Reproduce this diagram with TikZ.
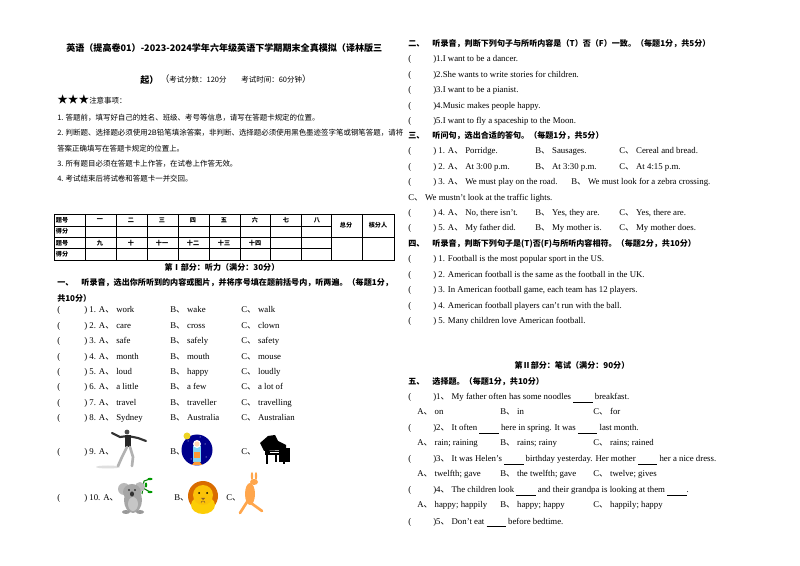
\documentclass[tikz,border=0pt]{standalone}
\usepackage{fontspec}
\setmainfont{Liberation Serif}
\newfontfamily\cjk{Noto Sans CJK SC}
\newcommand{\dn}{{\cjk 、}}
\tikzset{
  txt/.style={anchor=base west, inner sep=0pt, font=\fontsize{6.6}{8}\selectfont},
  zh/.style={anchor=base west, inner sep=0pt, font=\cjk\fontsize{6}{8}\selectfont},
  hd/.style={anchor=base west, inner sep=0pt, font=\cjk\bfseries\fontsize{6.05}{8}\selectfont},
  cell/.style={inner sep=0pt, font=\cjk\bfseries\fontsize{4.6}{5}\selectfont},
}
\begin{document}
\begin{tikzpicture}[x=0.75pt, y=-0.75pt]
  \useasboundingbox[fill=white] (0,0) rectangle (800,566);

  % Title
  \node[hd, font=\cjk\bfseries\fontsize{6.8}{9}\selectfont] (title) at (66,52) {英语（提高卷01）-2023-2024学年六年级英语下学期期末全真模拟（译林版三};
  \node[hd, font=\cjk\bfseries\fontsize{6.8}{9}\selectfont] (title2) at (140,84) {起）};
  \node[zh, font=\cjk\fontsize{5.6}{7}\selectfont] (score) at (160,83) {\fontsize{6.8}{9}\selectfont（\fontsize{5.6}{7}\selectfont 考试分数：120分\quad\quad 考试时间：60分钟\fontsize{6.8}{9}\selectfont）};

  % Notes
  \node[zh] (notes) at (57,104) {\fontsize{8}{9}\selectfont★★★\fontsize{5.6}{7}\selectfont 注意事项：};
  \node[zh, font=\cjk\fontsize{5.6}{7}\selectfont] (n1) at (57,121) {1. 答题前，填写好自己的姓名、班级、考号等信息，请写在答题卡规定的位置。};
  \node[zh, font=\cjk\fontsize{5.6}{7}\selectfont] (n2) at (57,136) {2. 判断题、选择题必须使用2B铅笔填涂答案，非判断、选择题必须使用黑色墨迹签字笔或钢笔答题，请将};
  \node[zh, font=\cjk\fontsize{5.6}{7}\selectfont] (n2b) at (57,152) {答案正确填写在答题卡规定的位置上。};
  \node[zh, font=\cjk\fontsize{5.6}{7}\selectfont] (n3) at (57,167) {3. 所有题目必须在答题卡上作答，在试卷上作答无效。};
  \node[zh, font=\cjk\fontsize{5.6}{7}\selectfont] (n4) at (57,182) {4. 考试结束后将试卷和答题卡一并交回。};

  % Score table
  \draw[line width=0.6pt] (54,214) rectangle (394,260);
  \foreach \y in {226,237,248} \draw[line width=0.4pt] (54,\y) -- (331,\y);
  \draw[line width=0.4pt] (331,237) -- (394,237);
  \foreach \x in {85,116,147,178,209,240,270,301,331,362} \draw[line width=0.4pt] (\x,214) -- (\x,260);
  \foreach \t [count=\i] in {一,二,三,四,五,六,七,八}
    \node[cell] (top\i) at ({85+31*(\i-1)+15},220) {\t};
  \foreach \t [count=\i] in {九,十,十一,十二,十三,十四}
    \node[cell] (bot\i) at ({85+31*(\i-1)+15},243) {\t};
  \foreach \y/\t in {220/题号,231/得分,243/题号,254/得分}
    \node[cell] at (62,\y) {\t};
  \node[cell] (total) at (346,225) {总分};
  \node[cell] (checker) at (378,225) {核分人};

  % Part I
  \node[hd, anchor=base] (part1) at (222,271) {第Ⅰ部分：听力（满分：30分）};
  \node[hd] (q1) at (57,286) {一、\quad 听录音，选出你所听到的内容或图片，并将序号填在题前括号内，听两遍。（每题1分，};
  \node[hd] (q1b) at (57,302) {共10分）};
  \foreach \n/\a/\b/\c [count=\i] in {1/work/wake/walk, 2/care/cross/clown, 3/safe/safely/safety, 4/month/mouth/mouse, 5/loud/happy/loudly, 6/a little/a few/a lot of, 7/travel/traveller/travelling, 8/Sydney/Australia/Australian}
  {
    \node[txt] (l\i) at (57,{313+15.4*(\i-1)}) {(};
    \node[txt] (la\i) at (84,{313+15.4*(\i-1)}) {) \n. A\dn\ \a};
    \node[txt] (lb\i) at (170,{313+15.4*(\i-1)}) {B\dn\ \b};
    \node[txt] (lc\i) at (241,{313+15.4*(\i-1)}) {C\dn\ \c};
  }
  \node[txt] (l9) at (57,455) {(};
  \node[txt] (la9) at (84,455) {) 9. A\dn};
  \node[txt] (lb9) at (170,455) {B\dn};
  \node[txt] (lc9) at (241,455) {C\dn};
  \node[txt] (l10) at (57,501) {(};
  \node[txt] (la10) at (84,501) {) 10. A\dn};
  \node[txt] (lb10) at (174,501) {B\dn};
  \node[txt] (lc10) at (226,501) {C\dn};

  % Pictures: dancer, astronaut, piano
  \fill[gray!25] (108,467) ellipse (12 and 1.5);
  \draw[black!80, line width=1.6pt, line cap=round] (128,436) -- (120,437) -- (112,433);
  \draw[black!80, line width=1.6pt, line cap=round] (128,436) -- (138,438) -- (146,441);
  \fill[black!85] (125,435) rectangle (131,447);
  \fill[black!70] (127,432) circle (2.4);
  \draw[gray!60, line width=2pt, line cap=round] (127,447) -- (122,457) -- (118,466);
  \draw[gray!60, line width=2pt, line cap=round] (130,447) -- (133,457) -- (132,466);
  \fill[blue!55!black] (197,450) circle (15.5);
  \foreach \sx/\sy in {188/441,205/444,191/459,206/457,200/437} \fill[white] (\sx,\sy) circle (0.5);
  \fill[yellow!70!brown] (187,436) circle (3.5);
  \fill[cyan!50] (193,446) rectangle (201,462);
  \fill[orange!80] (194,452) rectangle (200,458);
  \fill[white] (197,444) circle (4);
  \fill[orange!30] (197,444) circle (2.6);
  \fill[orange!80] (192,465) -- (202,465) -- (200,462) -- (194,462) -- cycle;
  \fill[black] (260,443) -- (268,436) -- (275,435) -- (278,441) -- (286,445) -- (286,450) -- (264,451) -- cycle;
  \fill[black] (265,451) rectangle (287,455);
  \draw[white, line width=0.3pt] (270,452) -- (285,452);
  \draw[black, line width=1.2pt] (267,455) -- (267,464) (284,455) -- (284,464) (276,455) -- (276,462);
  \fill[black] (279,448) rectangle (290,462);

  % Pictures: koala, lion, kangaroo
  \draw[green!50!black, line width=0.8pt] (142,494) -- (144,481) (144,481) -- (150,479) (143,488) -- (150,492);
  \fill[green!60!black] (150,479) ellipse (2.5 and 1.2) (150,492) ellipse (2.5 and 1.2) (146,485) ellipse (1.2 and 2.5);
  \fill[gray!70] (133,500) ellipse (9 and 13);
  \fill[gray!55] (124,489) circle (6);
  \fill[gray!55] (140,487) circle (5);
  \fill[gray!70] (132,492) ellipse (9 and 8);
  \fill[black!80] (132,494) ellipse (2 and 2.6);
  \fill[black] (129,490) circle (0.8) (135,490) circle (0.8);
  \fill[gray!45] (133,504) ellipse (5 and 7);
  \fill[gray!80] (126,512) ellipse (4 and 2) (140,512) ellipse (4 and 2);
  \fill[orange!85!black] (203,496) circle (15);
  \fill[yellow!65!orange] (203,505) ellipse (12 and 9);
  \fill[yellow!55!orange] (203,495) ellipse (10 and 10);
  \fill[black] (199,493) circle (1) (207,493) circle (1);
  \fill[brown!70!black] (201,498) -- (205,498) -- (203,500) -- cycle;
  \draw[brown!70!black, line width=0.4pt] (201,503) arc (180:360:2);
  \fill[orange!70] (250,494) ellipse (5 and 11);
  \fill[orange!70] (254,482) ellipse (4 and 3);
  \fill[orange!70] (252,476) ellipse (1.2 and 4);
  \fill[orange!70] (256,476) ellipse (1.2 and 4);
  \draw[orange!70, line width=2pt, line cap=round] (247,502) -- (240,513);
  \draw[orange!70, line width=2pt, line cap=round] (251,503) -- (262,511);

  % Part two
  \node[hd] (q2) at (408,47) {二、\quad 听录音，判断下列句子与所听内容是（T）否（F）一致。（每题1分，共5分）};
  \foreach \t [count=\i] in {I want to be a dancer., She wants to write stories for children., I want to be a pianist., Music makes people happy., I want to fly a spaceship to the Moon.}
  {
    \node[txt] (r\i) at (408,{62+15.4*(\i-1)}) {(};
    \node[txt] (rt\i) at (433,{62+15.4*(\i-1)}) {)\i.\t};
  }

  % Part three
  \node[hd] (q3) at (408,139) {三、\quad 听问句，选出合适的答句。（每题1分，共5分）};
  \foreach \n/\y/\a/\b/\c in {1/154/Porridge./Sausages./Cereal and bread., 2/170/At 3:00 p.m./At 3:30 p.m./At 4:15 p.m., 4/216/{No, there isn’t.}/{Yes, they are.}/{Yes, there are.}, 5/231/My father did./My mother is./My mother does.}
  {
    \node[txt] (s\n) at (408,\y) {(};
    \node[txt] (sa\n) at (433,\y) {) \n. A\dn\ \a};
    \node[txt] (sb\n) at (535,\y) {B\dn\ \b};
    \node[txt] (sc\n) at (619,\y) {C\dn\ \c};
  }
  \node[txt] (s3) at (408,185) {(};
  \node[txt] (sa3) at (433,185) {) 3. A\dn\ We must play on the road.};
  \node[txt] (sb3) at (571,185) {B\dn\ We must look for a zebra crossing.};
  \node[txt] (sc3) at (408,201) {C\dn\ We mustn’t look at the traffic lights.};

  % Part four
  \node[hd] (q4) at (408,247) {四、\quad 听录音，判断下列句子是(T)否(F)与所听内容相符。（每题2分，共10分）};
  \foreach \t [count=\i] in {Football is the most popular sport in the US., American football is the same as the football in the UK., In American football game{,} each team has 12 players., American football players can’t run with the ball., Many children love American football.}
  {
    \node[txt] (f\i) at (408,{262+15.4*(\i-1)}) {(};
    \node[txt] (ft\i) at (433,{262+15.4*(\i-1)}) {) \i. \t};
  }

  % Part II
  \node[hd, anchor=base] (part2) at (572,369) {第Ⅱ部分：笔试（满分：90分）};
  \node[hd] (q5) at (408,385) {五、\quad 选择题。（每题1分，共10分）};
  \foreach \n/\y/\t in {1/400/My father often has some noodles \underline{\hspace{2.2em}} breakfast., 2/431/It often \underline{\hspace{2.2em}} here in spring. It was \underline{\hspace{2.2em}} last month., 3/462/It was Helen’s \underline{\hspace{2.2em}} birthday yesterday. Her mother \underline{\hspace{2.2em}} her a nice dress., 4/493/The children look \underline{\hspace{2.2em}} and their grandpa is looking at them \underline{\hspace{2.2em}}., 5/524/Don’t eat \underline{\hspace{2.2em}} before bedtime.}
  {
    \node[txt] (w\n) at (408,\y) {(};
    \node[txt] (wt\n) at (433,\y) {)\n\dn\ \t};
  }
  \foreach \y/\a/\b/\c in {415/on/in/for, 446/rain; raining/rains; rainy/rains; rained, 477/twelfth; gave/the twelfth; gave/twelve; gives, 508/happy; happily/happy; happy/happily; happy}
  {
    \node[txt] (wa\y) at (417,\y) {A\dn\ \a};
    \node[txt] (wb\y) at (500,\y) {B\dn\ \b};
    \node[txt] (wc\y) at (593,\y) {C\dn\ \c};
  }
\end{tikzpicture}
\end{document}
